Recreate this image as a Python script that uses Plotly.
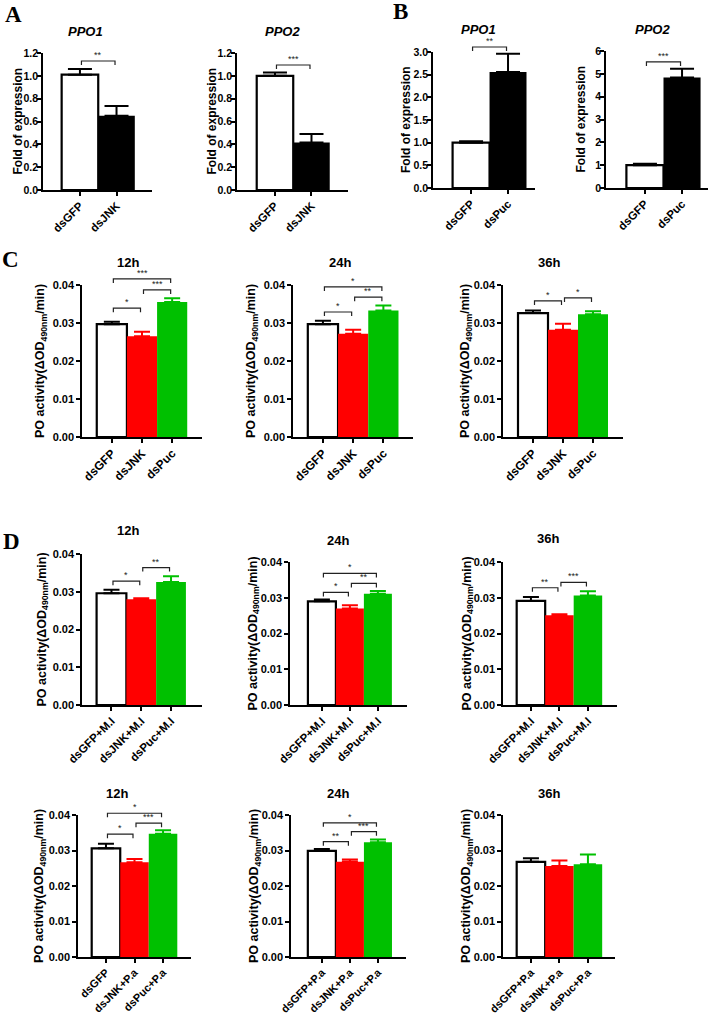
import plotly.graph_objects as go

W, H = 721, 1014

# ---------------- data ----------------
cats_A = ["dsGFP", "dsJNK"]
cats_B = ["dsGFP", "dsPuc"]
cats_C = ["dsGFP", "dsJNK", "dsPuc"]
cats_MI = ["dsGFP+M.I", "dsJNK+M.I", "dsPuc+M.I"]
cats_PA12 = ["dsGFP", "dsJNK+P.a", "dsPuc+P.a"]
cats_PA = ["dsGFP+P.a", "dsJNK+P.a", "dsPuc+P.a"]

A_ppo1_mean = [1.01, 0.65]
A_ppo1_sem = [0.05, 0.085]
A_ppo2_mean = [1.00, 0.415]
A_ppo2_sem = [0.03, 0.075]
B_ppo1_mean = [1.00, 2.56]
B_ppo1_sem = [0.03, 0.40]
B_ppo2_mean = [1.00, 4.84]
B_ppo2_sem = [0.06, 0.38]

C12_mean = [0.0297, 0.0265, 0.0355]
C12_sem = [0.0006, 0.0012, 0.0010]
C24_mean = [0.0297, 0.0272, 0.0333]
C24_sem = [0.0009, 0.0010, 0.0013]
C36_mean = [0.0326, 0.0282, 0.0323]
C36_sem = [0.0007, 0.0016, 0.0008]

MI12_mean = [0.0296, 0.0280, 0.0326]
MI12_sem = [0.0009, 0.0003, 0.0015]
MI24_mean = [0.0290, 0.0270, 0.0311]
MI24_sem = [0.0005, 0.0009, 0.0008]
MI36_mean = [0.0291, 0.0251, 0.0306]
MI36_sem = [0.0011, 0.0003, 0.0012]

PA12_mean = [0.0306, 0.0267, 0.0347]
PA12_sem = [0.0013, 0.0009, 0.0010]
PA24_mean = [0.0299, 0.0268, 0.0323]
PA24_sem = [0.0005, 0.0007, 0.0008]
PA36_mean = [0.0268, 0.0256, 0.0261]
PA36_sem = [0.0010, 0.0016, 0.0028]

# significance: (i, j, level, label)
sig_A1 = [(0, 1, 1.13, "**")]
sig_A2 = [(0, 1, 1.095, "***")]
sig_B1 = [(0, 1, 3.11, "**")]
sig_B2 = [(0, 1, 5.52, "***")]
sig_C12 = [(0, 1, 0.0339, "*"), (1, 2, 0.0387, "***"), (0, 2, 0.0416, "***")]
sig_C24 = [(0, 1, 0.0329, "*"), (1, 2, 0.0368, "**"), (0, 2, 0.0395, "*")]
sig_C36 = [(0, 1, 0.0358, "*"), (1, 2, 0.0366, "*")]
sig_MI12 = [(0, 1, 0.0328, "*"), (1, 2, 0.0364, "**")]
sig_MI24 = [(0, 1, 0.0315, "*"), (1, 2, 0.0340, "**"), (0, 2, 0.0368, "*")]
sig_MI36 = [(0, 1, 0.0328, "**"), (1, 2, 0.0343, "***")]
sig_PA12 = [(0, 1, 0.0346, "*"), (1, 2, 0.0377, "***"), (0, 2, 0.0405, "*")]
sig_PA24 = [(0, 1, 0.0325, "**"), (1, 2, 0.0353, "***"), (0, 2, 0.0378, "*")]
sig_PA36 = []

# ---------------- styles ----------------
FONT = "Liberation Sans"
RED = "#FF0000"
GREEN = "#00C000"
colors2 = ["white", "black"]
colors3 = ["white", RED, GREEN]
PO_LABEL = "PO activity(\u0394OD<sub>490nm</sub>/min)"
FOLD_LABEL = "Fold of expression"

# panel layout (pixel boxes: x0, x1, ytop, ybottom)
panels = [
    dict(cats=cats_A, mean=A_ppo1_mean, sem=A_ppo1_sem, col=colors2, box=(43, 152, 53, 190),
         xr=(-1.01, 1.97), ymax=1.2, dtick=0.2, fmt=".1f", title="<i>PPO1</i>", tpos=(85, 31),
         ylab=FOLD_LABEL, ylx=17, sig=sig_A1, cap=12, tf=10.5, xf=11.5, ys=-3),
    dict(cats=cats_A, mean=A_ppo2_mean, sem=A_ppo2_sem, col=colors2, box=(237, 348, 53, 190),
         xr=(-1.04, 2.0), ymax=1.2, dtick=0.2, fmt=".1f", title="<i>PPO2</i>", tpos=(282, 31),
         ylab=FOLD_LABEL, ylx=211, sig=sig_A2, cap=12, tf=10.5, xf=11.5, ys=-3),
    dict(cats=cats_B, mean=B_ppo1_mean, sem=B_ppo1_sem, col=colors2, box=(433, 535, 52, 188),
         xr=(-1.03, 1.73), ymax=3.0, dtick=0.5, fmt=".1f", title="<i>PPO1</i>", tpos=(478, 29),
         ylab=FOLD_LABEL, ylx=406, sig=sig_B1, cap=12, tf=10.5, xf=11.5, ys=-3),
    dict(cats=cats_B, mean=B_ppo2_mean, sem=B_ppo2_sem, col=colors2, box=(606, 708, 51, 188),
         xr=(-1.05, 1.70), ymax=6, dtick=1, fmt="d", title="<i>PPO2</i>", tpos=(652, 29),
         ylab=FOLD_LABEL, ylx=581, sig=sig_B2, cap=12, tf=10.5, xf=11.5, ys=-3),
    dict(cats=cats_C, mean=C12_mean, sem=C12_sem, col=colors3, box=(82, 202, 285, 437),
         xr=(-0.99, 2.99), ymax=0.04, dtick=0.01, fmt=".2f", title="12h", tpos=(128, 262),
         ylab=PO_LABEL, ylx=41, sig=sig_C12, cap=8, tf=11, xf=12, ys=0),
    dict(cats=cats_C, mean=C24_mean, sem=C24_sem, col=colors3, box=(293, 413, 285, 437),
         xr=(-0.99, 2.98), ymax=0.04, dtick=0.01, fmt=".2f", title="24h", tpos=(340, 262),
         ylab=PO_LABEL, ylx=252, sig=sig_C24, cap=8, tf=11, xf=12, ys=0),
    dict(cats=cats_C, mean=C36_mean, sem=C36_sem, col=colors3, box=(503, 623, 285, 437),
         xr=(-1.0, 3.0), ymax=0.04, dtick=0.01, fmt=".2f", title="36h", tpos=(549, 262),
         ylab=PO_LABEL, ylx=466, sig=sig_C36, cap=8, tf=11, xf=12, ys=0),
    dict(cats=cats_MI, mean=MI12_mean, sem=MI12_sem, col=colors3, box=(82, 202, 554, 705),
         xr=(-0.99, 3.04), ymax=0.04, dtick=0.01, fmt=".2f", title="12h", tpos=(128, 530),
         ylab=PO_LABEL, ylx=42, sig=sig_MI12, cap=8, tf=11, xf=11.5, ys=0),
    dict(cats=cats_MI, mean=MI24_mean, sem=MI24_sem, col=colors3, box=(290, 407, 562, 705),
         xr=(-1.14, 3.04), ymax=0.04, dtick=0.01, fmt=".2f", title="24h", tpos=(338, 540),
         ylab=PO_LABEL, ylx=253, sig=sig_MI24, cap=8, tf=11, xf=11.5, ys=0),
    dict(cats=cats_MI, mean=MI36_mean, sem=MI36_sem, col=colors3, box=(503, 617, 562, 705),
         xr=(-0.98, 3.02), ymax=0.04, dtick=0.01, fmt=".2f", title="36h", tpos=(548, 538),
         ylab=PO_LABEL, ylx=467, sig=sig_MI36, cap=8, tf=11, xf=11.5, ys=0),
    dict(cats=cats_PA12, mean=PA12_mean, sem=PA12_sem, col=colors3, box=(78, 191, 815, 957),
         xr=(-0.98, 2.98), ymax=0.04, dtick=0.01, fmt=".2f", title="12h", tpos=(117, 793),
         ylab=PO_LABEL, ylx=40, sig=sig_PA12, cap=8, tf=11, xf=11, ys=0),
    dict(cats=cats_PA, mean=PA24_mean, sem=PA24_sem, col=colors3, box=(291, 406, 815, 957),
         xr=(-1.1, 3.0), ymax=0.04, dtick=0.01, fmt=".2f", title="24h", tpos=(338, 793),
         ylab=PO_LABEL, ylx=255, sig=sig_PA24, cap=8, tf=11, xf=11, ys=0),
    dict(cats=cats_PA, mean=PA36_mean, sem=PA36_sem, col=colors3, box=(503, 615, 815, 957),
         xr=(-0.98, 2.95), ymax=0.04, dtick=0.01, fmt=".2f", title="36h", tpos=(549, 793),
         ylab=PO_LABEL, ylx=467, sig=sig_PA36, cap=8, tf=11, xf=11, ys=0),
]

letters = [("A", 13, 15), ("B", 400, 12), ("C", 10, 259), ("D", 11, 541)]


def px_x(px):
    return px / W


def px_y(py):
    return 1 - py / H


fig = go.Figure()
layout = dict(
    width=W, height=H, margin=dict(l=0, r=0, t=0, b=0, pad=0),
    template="none", paper_bgcolor="white", plot_bgcolor="rgba(0,0,0,0)",
    barmode="overlay", showlegend=False, autosize=False,
    font=dict(family=FONT, color="black"),
)
shapes = []
annotations = []

for k, p in enumerate(panels, start=1):
    xa = "xaxis" if k == 1 else f"xaxis{k}"
    ya = "yaxis" if k == 1 else f"yaxis{k}"
    xr_ = "x" if k == 1 else f"x{k}"
    yr_ = "y" if k == 1 else f"y{k}"
    x0, x1, yt, yb = p["box"]
    axis_common = dict(
        showline=True, linecolor="black", linewidth=1.5, ticks="outside", ticklen=4,
        tickwidth=1.5, tickcolor="black", showgrid=False, zeroline=False,
        automargin=False, fixedrange=True,
    )
    layout[xa] = dict(axis_common, domain=[px_x(x0), px_x(x1)], anchor=yr_,
                      type="category", categoryorder="array", categoryarray=p["cats"],
                      range=list(p["xr"]), tickangle=-45, ticklabelstandoff=-1,
                      tickfont=dict(family=FONT, size=p["xf"], color="black", weight="bold"))
    layout[ya] = dict(axis_common, domain=[px_y(yb), px_y(yt)], anchor=xr_,
                      range=[0, p["ymax"]], dtick=p["dtick"], tick0=0, tickformat=p["fmt"],
                      ticklabelstandoff=p["ys"],
                      tickfont=dict(family=FONT, size=p["tf"], color="black", weight="bold"))

    for i, cat in enumerate(p["cats"]):
        fill = p["col"][i]
        lw = 2.2 if fill == "white" else 0
        ec = "black" if fill in ("white", "black") else fill
        fig.add_trace(go.Bar(
            x=[cat], y=[p["mean"][i]], width=[1.0], xaxis=xr_, yaxis=yr_,
            marker=dict(color=fill, line=dict(color="black", width=lw)),
            error_y=dict(type="data", symmetric=False, array=[p["sem"][i]], arrayminus=[0],
                         color=ec, thickness=2, width=p["cap"]),
            showlegend=False, hoverinfo="skip",
        ))

    def cx(i, p=p):
        x0_, x1_, _, _ = p["box"]
        r0, r1 = p["xr"]
        return x0_ + (i - r0) / (r1 - r0) * (x1_ - x0_)

    def cy(v, p=p):
        _, _, yt_, yb_ = p["box"]
        return yb_ - v / p["ymax"] * (yb_ - yt_)

    for (i, j, lev, lab) in p["sig"]:
        xa_px = cx(i) + 1.5
        xb_px = cx(j) - 1.5
        y_px = cy(lev)
        path = (f"M {px_x(xa_px)},{px_y(y_px + 4)} L {px_x(xa_px)},{px_y(y_px)} "
                f"L {px_x(xb_px)},{px_y(y_px)} L {px_x(xb_px)},{px_y(y_px + 4)}")
        shapes.append(dict(type="path", path=path, xref="paper", yref="paper",
                           line=dict(color="#222222", width=1.2)))
        annotations.append(dict(text=lab, x=px_x((xa_px + xb_px) / 2), y=px_y(y_px),
                                xref="paper", yref="paper", xanchor="center", yanchor="bottom",
                                showarrow=False, yshift=-1,
                                font=dict(family=FONT, size=9, color="#222222")))

    annotations.append(dict(text=p["title"], x=px_x(p["tpos"][0]), y=px_y(p["tpos"][1]),
                            xref="paper", yref="paper", xanchor="center", yanchor="middle",
                            showarrow=False,
                            font=dict(family=FONT, size=13, color="black", weight="bold")))
    annotations.append(dict(text=p["ylab"], x=px_x(p["ylx"]), y=px_y((yt + yb) / 2),
                            xref="paper", yref="paper", xanchor="center", yanchor="middle",
                            textangle=-90, showarrow=False,
                            font=dict(family=FONT, size=12 if p["ylab"] == FOLD_LABEL else 12.5,
                                      color="black", weight="bold")))

for (lt, lx, ly) in letters:
    annotations.append(dict(text=f"<b>{lt}</b>", x=px_x(lx), y=px_y(ly), xref="paper", yref="paper",
                            xanchor="center", yanchor="middle", showarrow=False,
                            font=dict(family="Liberation Serif", size=23, color="black")))

layout["shapes"] = shapes
layout["annotations"] = annotations
fig.update_layout(**layout)

fig.write_html("out.html", config={"displayModeBar": False},
               post_script="document.body.style.margin='0px';")
